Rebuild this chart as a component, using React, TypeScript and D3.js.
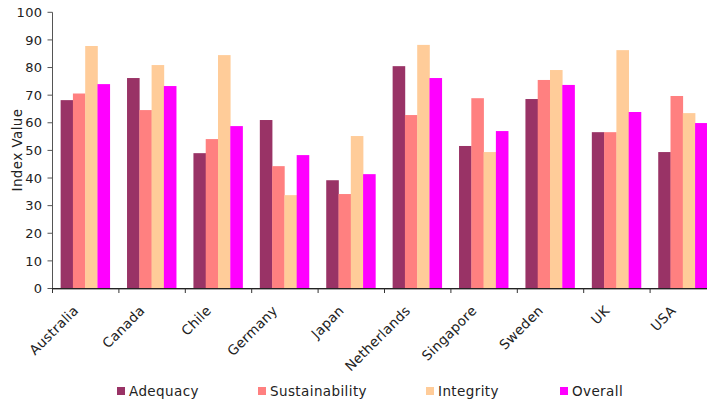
import React from "react";
import * as d3 from "d3";

const countries = ["Australia", "Canada", "Chile", "Germany", "Japan", "Netherlands", "Singapore", "Sweden", "UK", "USA"];
const seriesNames = ["Adequacy", "Sustainability", "Integrity", "Overall"];
const adequacy = [68.2, 76.2, 49.0, 61.0, 39.2, 80.5, 51.6, 68.6, 56.6, 49.4];
const sustainability = [70.6, 64.6, 54.1, 44.3, 34.2, 62.8, 68.9, 75.5, 56.6, 69.7];
const integrity = [87.8, 80.9, 84.5, 33.8, 55.2, 88.2, 49.4, 79.1, 86.3, 63.5];
const overall = [74.0, 73.3, 58.8, 48.3, 41.4, 76.2, 57.0, 73.7, 63.9, 59.9];
const seriesColors = ["#993366", "#FF8080", "#FFCC99", "#FF00FF"];
const yTicks = [0, 10, 20, 30, 40, 50, 60, 70, 80, 90, 100];
const legendX = [117, 258, 426, 560];

const W = 707;
const H = 403;
const FONT = "'DejaVu Sans', Verdana, sans-serif";

export default function App() {
  const seriesValues = [adequacy, sustainability, integrity, overall];
  const left = 52;
  const right = 716;
  const top = 12.3;
  const bottom = 288.5;

  const y = d3.scaleLinear().domain([0, 100]).range([bottom, top]);
  const x0 = d3.scaleBand<string>().domain(countries).range([left, right]).paddingInner(0.26).paddingOuter(0.13);
  const x1 = d3.scaleBand<string>().domain(seriesNames).range([0, x0.bandwidth()]);
  const step = x0.step();

  return (
    <svg width={W} height={H} style={{ position: "absolute", left: 0, top: 0, background: "#fff" }}>
      {/* bars */}
      {countries.map((c, i) => (
        <g key={c} transform={`translate(${x0(c)},0)`}>
          {seriesNames.map((s, j) => {
            const v = seriesValues[j][i];
            return (
              <rect
                key={s}
                x={x1(s)}
                y={y(v)}
                width={x1.bandwidth() + 0.3}
                height={bottom - y(v)}
                fill={seriesColors[j]}
              />
            );
          })}
        </g>
      ))}

      {/* y axis */}
      <line x1={left + 0.5} x2={left + 0.5} y1={top} y2={bottom + 4} stroke="#555" strokeWidth={1} />
      {yTicks.map((t) => (
        <g key={t}>
          <line x1={left - 4.5} x2={left + 0.5} y1={y(t)} y2={y(t)} stroke="#555" strokeWidth={1} />
          <text
            x={42.5}
            y={y(t)}
            dy="0.36em"
            textAnchor="end"
            fontFamily={FONT}
            fontSize={13}
            letterSpacing={0.4}
            fill="#222"
          >
            {t}
          </text>
        </g>
      ))}
      <text
        transform={`translate(22,150) rotate(-90)`}
        textAnchor="middle"
        fontFamily={FONT}
        fontSize={13.5}
        letterSpacing={0.4}
        fill="#222"
      >
        Index Value
      </text>

      {/* x axis */}
      <line x1={left} x2={W} y1={bottom} y2={bottom} stroke="#222" strokeWidth={1} />
      <line x1={left} x2={W} y1={bottom + 1} y2={bottom + 1} stroke="#aaa" strokeWidth={1} />
      {countries.map((c, i) => (
        <line
          key={c}
          x1={left + i * step + 0.5}
          x2={left + i * step + 0.5}
          y1={bottom}
          y2={bottom + 4.5}
          stroke="#333"
          strokeWidth={1}
        />
      ))}
      {countries.map((c) => {
        const cx = (x0(c) as number) + x0.bandwidth() / 2;
        return (
          <text
            key={c}
            transform={`translate(${cx - 6},${bottom + 23}) rotate(-45)`}
            textAnchor="end"
            fontFamily={FONT}
            fontSize={13.5}
            letterSpacing={0.3}
            fill="#222"
          >
            {c}
          </text>
        );
      })}

      {/* legend */}
      {seriesNames.map((s, j) => (
        <g key={s} transform={`translate(${legendX[j]},0)`}>
          <rect x={0} y={387} width={8} height={8} fill={seriesColors[j]} />
          <text x={12} y={396} fontFamily={FONT} fontSize={13.5} letterSpacing={0.4} fill="#222">
            {s}
          </text>
        </g>
      ))}
    </svg>
  );
}
